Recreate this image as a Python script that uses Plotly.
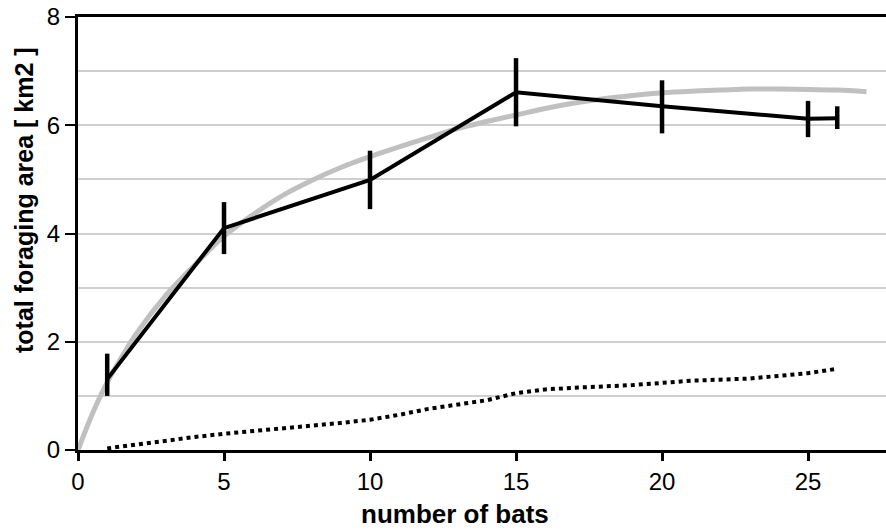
import plotly.graph_objects as go

# Observed foraging area (mean with error bars)
bats = [1, 5, 10, 15, 20, 25, 26]
area = [1.31, 4.10, 4.99, 6.61, 6.35, 6.12, 6.13]
err_plus = [0.47, 0.48, 0.54, 0.63, 0.48, 0.33, 0.22]
err_minus = [0.31, 0.48, 0.54, 0.63, 0.50, 0.34, 0.20]

# Fitted saturating curve (grey)
fit_x = [0, 0.5, 1, 1.5, 2, 3, 4, 5, 6, 7, 8, 9, 10, 11, 12, 13, 14, 15, 16,
         17, 18, 19, 20, 21, 22, 23, 24, 25, 26, 27]
fit_y = [0, 0.68, 1.25, 1.72, 2.15, 2.85, 3.42, 3.95, 4.35, 4.70, 4.98, 5.22,
         5.42, 5.60, 5.77, 5.94, 6.07, 6.19, 6.31, 6.41, 6.49, 6.55, 6.60,
         6.63, 6.65, 6.67, 6.67, 6.66, 6.65, 6.62]

# Dotted series
dot_x = list(range(1, 27))
dot_y = [0.03, 0.10, 0.18, 0.24, 0.30, 0.35, 0.40, 0.44, 0.50, 0.56, 0.65,
         0.76, 0.84, 0.92, 1.05, 1.12, 1.15, 1.17, 1.20, 1.24, 1.28, 1.30,
         1.32, 1.37, 1.42, 1.50]

x_ticks = [0, 5, 10, 15, 20, 25]
y_ticks = [0, 2, 4, 6, 8]

FONT = "Liberation Sans, Arial, Helvetica, sans-serif"
TICKFONT = dict(size=24, family=FONT)

fig = go.Figure()
fig.add_trace(go.Scatter(x=fit_x, y=fit_y, mode="lines",
                         line=dict(color="#c0c0c0", width=5, shape="spline"),
                         hoverinfo="skip", showlegend=False))
fig.add_trace(go.Scatter(x=dot_x, y=dot_y, mode="lines",
                         line=dict(color="black", width=4, dash="4px,4px"),
                         showlegend=False))
fig.add_trace(go.Scatter(x=bats, y=area, mode="lines",
                         line=dict(color="black", width=4),
                         error_y=dict(type="data", symmetric=False, array=err_plus,
                                      arrayminus=err_minus, color="black",
                                      thickness=4.5, width=0),
                         showlegend=False))

fig.update_layout(
    width=886, height=530,
    margin=dict(l=78, r=0, t=17, b=80),
    paper_bgcolor="white", plot_bgcolor="white",
    font=dict(family=FONT, size=24, color="black"),
    xaxis=dict(range=[0, 27.67], tickvals=x_ticks, ticks="outside", ticklen=8,
               tickwidth=2.5, tickcolor="black", showline=True, linecolor="black",
               linewidth=3, mirror=True, showgrid=False, zeroline=False,
               tickfont=TICKFONT),
    yaxis=dict(range=[0, 8], tickvals=y_ticks, ticks="outside", ticklen=10,
               tickwidth=2, tickcolor="black", showline=True, linecolor="black",
               linewidth=3, showgrid=True, gridcolor="#cfcfcf", gridwidth=1.5,
               zeroline=False, tickfont=TICKFONT,
               minor=dict(dtick=1, showgrid=True, gridcolor="#cfcfcf",
                          gridwidth=1.5, ticks="")),
    annotations=[
        dict(text="<b>number of bats</b>", xref="paper", yref="paper",
             x=(455 - 78) / 808, y=(450 - 514) / 433, xanchor="center",
             yanchor="middle", showarrow=False, font=dict(size=26, family=FONT)),
        dict(text="<b>total foraging area [ km2 ]</b>", xref="paper", yref="paper",
             x=(24 - 78) / 808, y=(450 - 200) / 433, xanchor="center",
             yanchor="middle", textangle=-90, showarrow=False,
             font=dict(size=25, family=FONT)),
    ],
)

fig.write_html("out.html")
